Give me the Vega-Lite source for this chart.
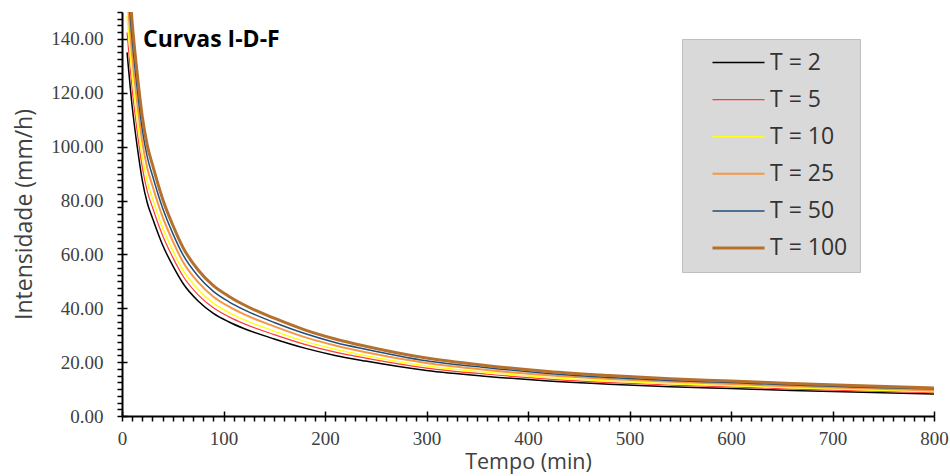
{
"$schema": "https://vega.github.io/schema/vega-lite/v6.json",
"width": 812, "height": 404,
"autosize": {"type": "none"},
"padding": {"left": 122, "top": 12, "right": 16, "bottom": 60},
"background": "white",
"config": {
  "view": {"stroke": null},
  "axis": {"domainColor": "#000000", "domainWidth": 2, "tickColor": "#000000", "tickWidth": 1.5, "grid": false,
    "labelFont": "Liberation Serif", "labelFontSize": 19, "labelColor": "#404040",
    "titleFont": "Open Sans", "titleFontSize": 23, "titleFontWeight": "normal", "titleColor": "#404040",
    "labelOverlap": false, "labelFlush": false}
},
"layer": [
  {
    "data": {"values": [
{"t":5,"serie":"T = 2","i":135},{"t":10,"serie":"T = 2","i":115},{"t":15,"serie":"T = 2","i":100},{"t":20,"serie":"T = 2","i":87.5},{"t":25,"serie":"T = 2","i":79},{"t":30,"serie":"T = 2","i":73.5},{"t":40,"serie":"T = 2","i":63.5},{"t":50,"serie":"T = 2","i":55.8},{"t":60,"serie":"T = 2","i":49.3},{"t":75,"serie":"T = 2","i":42.7},{"t":90,"serie":"T = 2","i":38.1},{"t":105,"serie":"T = 2","i":35.0},{"t":120,"serie":"T = 2","i":32.5},{"t":150,"serie":"T = 2","i":28.6},{"t":180,"serie":"T = 2","i":25.2},{"t":210,"serie":"T = 2","i":22.5},{"t":240,"serie":"T = 2","i":20.4},{"t":300,"serie":"T = 2","i":16.9},{"t":360,"serie":"T = 2","i":14.7},{"t":420,"serie":"T = 2","i":13.0},{"t":480,"serie":"T = 2","i":11.8},{"t":540,"serie":"T = 2","i":10.9},{"t":600,"serie":"T = 2","i":10.2},{"t":660,"serie":"T = 2","i":9.5},{"t":720,"serie":"T = 2","i":8.9},{"t":800,"serie":"T = 2","i":8.2},
{"t":5,"serie":"T = 5","i":142.4},{"t":10,"serie":"T = 5","i":121.3},{"t":15,"serie":"T = 5","i":105.5},{"t":20,"serie":"T = 5","i":92.3},{"t":25,"serie":"T = 5","i":83.3},{"t":30,"serie":"T = 5","i":77.5},{"t":40,"serie":"T = 5","i":67.0},{"t":50,"serie":"T = 5","i":58.9},{"t":60,"serie":"T = 5","i":52.0},{"t":75,"serie":"T = 5","i":45.0},{"t":90,"serie":"T = 5","i":40.2},{"t":105,"serie":"T = 5","i":36.9},{"t":120,"serie":"T = 5","i":34.3},{"t":150,"serie":"T = 5","i":30.2},{"t":180,"serie":"T = 5","i":26.6},{"t":210,"serie":"T = 5","i":23.7},{"t":240,"serie":"T = 5","i":21.5},{"t":300,"serie":"T = 5","i":17.8},{"t":360,"serie":"T = 5","i":15.5},{"t":420,"serie":"T = 5","i":13.7},{"t":480,"serie":"T = 5","i":12.4},{"t":540,"serie":"T = 5","i":11.5},{"t":600,"serie":"T = 5","i":10.8},{"t":660,"serie":"T = 5","i":10.0},{"t":720,"serie":"T = 5","i":9.4},{"t":800,"serie":"T = 5","i":8.7},
{"t":5,"serie":"T = 10","i":148.5},{"t":10,"serie":"T = 10","i":126.5},{"t":15,"serie":"T = 10","i":110.0},{"t":20,"serie":"T = 10","i":96.3},{"t":25,"serie":"T = 10","i":86.9},{"t":30,"serie":"T = 10","i":80.9},{"t":40,"serie":"T = 10","i":69.9},{"t":50,"serie":"T = 10","i":61.4},{"t":60,"serie":"T = 10","i":54.2},{"t":75,"serie":"T = 10","i":47.0},{"t":90,"serie":"T = 10","i":41.9},{"t":105,"serie":"T = 10","i":38.5},{"t":120,"serie":"T = 10","i":35.8},{"t":150,"serie":"T = 10","i":31.5},{"t":180,"serie":"T = 10","i":27.7},{"t":210,"serie":"T = 10","i":24.8},{"t":240,"serie":"T = 10","i":22.4},{"t":300,"serie":"T = 10","i":18.6},{"t":360,"serie":"T = 10","i":16.2},{"t":420,"serie":"T = 10","i":14.3},{"t":480,"serie":"T = 10","i":13.0},{"t":540,"serie":"T = 10","i":12.0},{"t":600,"serie":"T = 10","i":11.2},{"t":660,"serie":"T = 10","i":10.5},{"t":720,"serie":"T = 10","i":9.8},{"t":800,"serie":"T = 10","i":9.0},
{"t":5,"serie":"T = 25","i":157.0},{"t":10,"serie":"T = 25","i":133.7},{"t":15,"serie":"T = 25","i":116.3},{"t":20,"serie":"T = 25","i":101.8},{"t":25,"serie":"T = 25","i":91.9},{"t":30,"serie":"T = 25","i":85.5},{"t":40,"serie":"T = 25","i":73.9},{"t":50,"serie":"T = 25","i":64.9},{"t":60,"serie":"T = 25","i":57.3},{"t":75,"serie":"T = 25","i":49.7},{"t":90,"serie":"T = 25","i":44.3},{"t":105,"serie":"T = 25","i":40.7},{"t":120,"serie":"T = 25","i":37.8},{"t":150,"serie":"T = 25","i":33.3},{"t":180,"serie":"T = 25","i":29.3},{"t":210,"serie":"T = 25","i":26.2},{"t":240,"serie":"T = 25","i":23.7},{"t":300,"serie":"T = 25","i":19.7},{"t":360,"serie":"T = 25","i":17.1},{"t":420,"serie":"T = 25","i":15.1},{"t":480,"serie":"T = 25","i":13.7},{"t":540,"serie":"T = 25","i":12.7},{"t":600,"serie":"T = 25","i":11.9},{"t":660,"serie":"T = 25","i":11.0},{"t":720,"serie":"T = 25","i":10.4},{"t":800,"serie":"T = 25","i":9.5},
{"t":5,"serie":"T = 50","i":164.0},{"t":10,"serie":"T = 50","i":139.7},{"t":15,"serie":"T = 50","i":121.5},{"t":20,"serie":"T = 50","i":106.3},{"t":25,"serie":"T = 50","i":96.0},{"t":30,"serie":"T = 50","i":89.3},{"t":40,"serie":"T = 50","i":77.2},{"t":50,"serie":"T = 50","i":67.8},{"t":60,"serie":"T = 50","i":59.9},{"t":75,"serie":"T = 50","i":51.9},{"t":90,"serie":"T = 50","i":46.3},{"t":105,"serie":"T = 50","i":42.5},{"t":120,"serie":"T = 50","i":39.5},{"t":150,"serie":"T = 50","i":34.7},{"t":180,"serie":"T = 50","i":30.6},{"t":210,"serie":"T = 50","i":27.3},{"t":240,"serie":"T = 50","i":24.8},{"t":300,"serie":"T = 50","i":20.5},{"t":360,"serie":"T = 50","i":17.9},{"t":420,"serie":"T = 50","i":15.8},{"t":480,"serie":"T = 50","i":14.3},{"t":540,"serie":"T = 50","i":13.2},{"t":600,"serie":"T = 50","i":12.4},{"t":660,"serie":"T = 50","i":11.5},{"t":720,"serie":"T = 50","i":10.8},{"t":800,"serie":"T = 50","i":10.0},
{"t":5,"serie":"T = 100","i":171.5},{"t":10,"serie":"T = 100","i":146.1},{"t":15,"serie":"T = 100","i":127.0},{"t":20,"serie":"T = 100","i":111.1},{"t":25,"serie":"T = 100","i":100.3},{"t":30,"serie":"T = 100","i":93.3},{"t":40,"serie":"T = 100","i":80.6},{"t":50,"serie":"T = 100","i":70.9},{"t":60,"serie":"T = 100","i":62.6},{"t":75,"serie":"T = 100","i":54.2},{"t":90,"serie":"T = 100","i":48.4},{"t":105,"serie":"T = 100","i":44.5},{"t":120,"serie":"T = 100","i":41.3},{"t":150,"serie":"T = 100","i":36.3},{"t":180,"serie":"T = 100","i":32.0},{"t":210,"serie":"T = 100","i":28.6},{"t":240,"serie":"T = 100","i":25.9},{"t":300,"serie":"T = 100","i":21.5},{"t":360,"serie":"T = 100","i":18.7},{"t":420,"serie":"T = 100","i":16.5},{"t":480,"serie":"T = 100","i":15.0},{"t":540,"serie":"T = 100","i":13.8},{"t":600,"serie":"T = 100","i":13.0},{"t":660,"serie":"T = 100","i":12.1},{"t":720,"serie":"T = 100","i":11.3},{"t":800,"serie":"T = 100","i":10.4}
    ]},
    "mark": {"type": "line", "clip": true, "interpolate": "monotone"},
    "encoding": {
      "x": {"field": "t", "type": "quantitative", "scale": {"domain": [0, 800], "nice": false},
        "axis": {"title": "Tempo (min)", "titleFontSize": 21.5, "values": [0,10,20,30,40,50,60,70,80,90,100,110,120,130,140,150,160,170,180,190,200,210,220,230,240,250,260,270,280,290,300,310,320,330,340,350,360,370,380,390,400,410,420,430,440,450,460,470,480,490,500,510,520,530,540,550,560,570,580,590,600,610,620,630,640,650,660,670,680,690,700,710,720,730,740,750,760,770,780,790,800],
          "labelExpr": "datum.value % 100 === 0 ? datum.label : ''", "tickSize": 5, "labelPadding": 8, "titlePadding": 3}},
      "y": {"field": "i", "type": "quantitative", "scale": {"domain": [0, 150], "nice": false},
        "axis": {"title": "Intensidade (mm/h)", "values": [0,2.5,5,7.5,10,12.5,15,17.5,20,22.5,25,27.5,30,32.5,35,37.5,40,42.5,45,47.5,50,52.5,55,57.5,60,62.5,65,67.5,70,72.5,75,77.5,80,82.5,85,87.5,90,92.5,95,97.5,100,102.5,105,107.5,110,112.5,115,117.5,120,122.5,125,127.5,130,132.5,135,137.5,140,142.5,145,147.5,150],
          "labelExpr": "datum.value % 20 === 0 ? format(datum.value, '.2f') : ''", "tickSize": 5, "labelPadding": 14, "titlePadding": 14}},
      "color": {"field": "serie", "type": "ordinal",
        "scale": {"type": "ordinal", "domain": ["T = 2","T = 5","T = 10","T = 25","T = 50","T = 100"], "range": ["#000000","#ff3b3b","#ffff1a","#f79646","#1f4e79","#b5702d"]},
        "legend": {"orient": "none", "legendX": 560, "legendY": 27, "title": null, "fillColor": "#d9d9d9", "strokeColor": "#bfbfbf", "padding": 12,
          "symbolType": "M0,0H10.4", "symbolSize": 100, "symbolOffset": 7, "labelOffset": 46, "labelFont": "Open Sans", "labelFontSize": 23, "labelColor": "#333333", "rowPadding": 13.1}},
      "strokeWidth": {"field": "serie", "type": "ordinal",
        "scale": {"type": "ordinal", "domain": ["T = 2","T = 5","T = 10","T = 25","T = 50","T = 100"], "range": [1.5,1.2,1.5,2,1.5,3]},
        "legend": {"orient": "none", "legendX": 560, "legendY": 27, "title": null, "fillColor": "#d9d9d9", "strokeColor": "#bfbfbf", "padding": 12,
          "symbolType": "M0,0H10.4", "symbolSize": 100, "symbolOffset": 7, "labelOffset": 46, "labelFont": "Open Sans", "labelFontSize": 23, "labelColor": "#333333", "rowPadding": 13.1}}
    }
  },
  {
    "data": {"values": [{"label": "Curvas I-D-F"}]},
    "mark": {"type": "text", "font": "Open Sans", "fontWeight": "bold", "fontSize": 23, "align": "left", "baseline": "alphabetic", "color": "#000000"},
    "encoding": {
      "x": {"datum": 20.7, "type": "quantitative", "axis": {"orient": "bottom", "values": [0,100,200,300,400,500,600,700,800], "tickSize": -5, "labels": false, "domain": false, "title": null}},
      "y": {"datum": 137.1, "type": "quantitative", "axis": {"orient": "left", "values": [0,20,40,60,80,100,120,140], "tickSize": -5, "labels": false, "domain": false, "title": null}},
      "text": {"field": "label"}
    }
  }
],
"resolve": {"axis": {"x": "independent", "y": "independent"}}
}
